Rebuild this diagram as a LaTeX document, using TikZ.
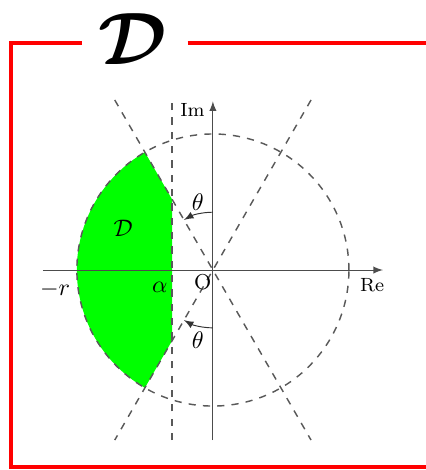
\documentclass[tikz,border=0pt]{standalone}
\usepackage{amsmath,bm}
\begin{document}
\begin{tikzpicture}[
  guide/.style={dashed, black!65, semithick},
  axis/.style={-latex, black!70, thin},
  frame/.style={red, line width=1.7pt},
]
  \useasboundingbox (-3.13,-2.94) rectangle (3.12,3.97);
  % Region D
  \fill[green] (-1,1.732) -- (-0.6,1.039) -- (-0.6,-1.039) -- (-1,-1.732)
    arc[start angle=240, end angle=120, radius=2] -- cycle;
  % Guides
  \draw[guide] (0,0) circle[radius=2];
  \draw[guide] (-0.6,-2.5) -- (-0.6,2.5);
  \draw[guide] (-1.443,2.5) -- (1.443,-2.5);
  \draw[guide] (1.443,2.5) -- (-1.443,-2.5);
  % Axes
  \draw[axis] (-2.5,0) -- (2.5,0);
  \draw[axis] (0,-2.5) -- (0,2.48);
  \node[font=\footnotesize] (re) at (2.34,-0.22) {Re};
  \node[font=\footnotesize] (im) at (-0.3,2.36) {Im};
  \node (mr) at (-2.32,-0.29) {$-r$};
  \node (al) at (-0.78,-0.25) {$\alpha$};
  \node[font=\small] (o) at (-0.15,-0.18) {O};
  \node (d) at (-1.32,0.62) {$\mathcal{D}$};
  % Angles
  \draw[-latex, black!80] (0,0.85) arc[start angle=90, end angle=120, radius=0.85];
  \draw[-latex, black!80] (0,-0.85) arc[start angle=270, end angle=240, radius=0.85];
  \node (th1) at (-0.22,0.99) {$\theta$};
  \node (th2) at (-0.22,-1.03) {$\theta$};
  % Frame
  \draw[frame] (-1.93,3.34) -- (-2.975,3.34) -- (-2.975,-2.9) -- (3.3,-2.9);
  \draw[frame] (-0.37,3.34) -- (3.3,3.34);
  \node[scale=3.1, inner sep=0pt] (title) at (-1.18,3.40) {$\bm{\mathcal{D}}$};
\end{tikzpicture}
\end{document}
